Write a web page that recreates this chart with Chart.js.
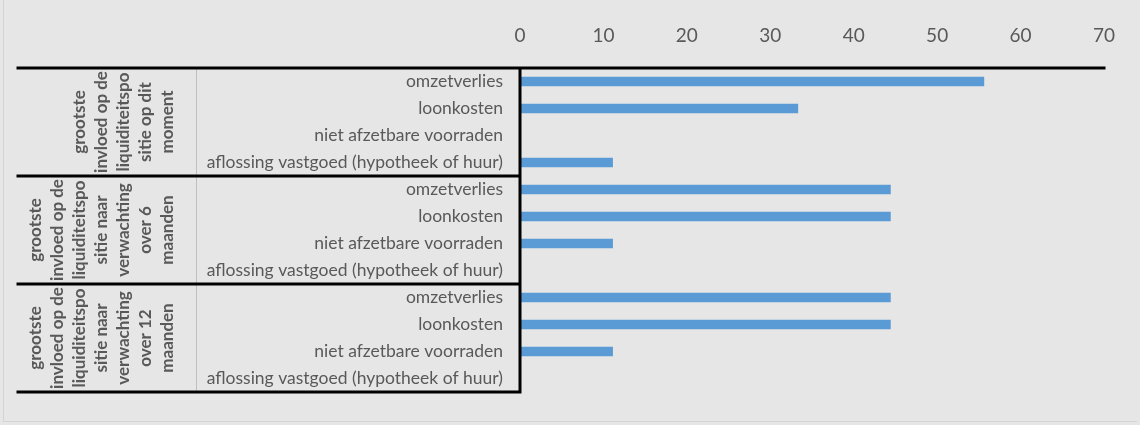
<!DOCTYPE html>
<html>
<head>
<meta charset="utf-8">
<script src="https://cdn.jsdelivr.net/npm/chart.js@4.4.1/dist/chart.umd.min.js"></script>
<style>
  html, body { margin: 0; padding: 0; background: #e6e6e6; }
  #wrap { position: absolute; left: 0; top: 0; width: 1140px; height: 425px; }
  #frame { position: absolute; left: 3px; top: 0; width: 1133px; height: 421px; border-left: 1px solid #d4d4d4; border-bottom: 1px solid #d4d4d4; }
  canvas { position: absolute; left: 0; top: 0; }
</style>
</head>
<body>
<div id="wrap">
  <div id="frame"></div>
  <canvas id="myChart" width="1140" height="425"></canvas>
</div>
<script>
const ctx = document.getElementById('myChart');

// categories per group
const categories = ['omzetverlies', 'loonkosten', 'niet afzetbare voorraden', 'aflossing vastgoed (hypotheek of huur)'];

// group labels, already wrapped the way the original wraps them
const groupMoment = ['grootste', 'invloed op de', 'liquiditeitspo', 'sitie op dit', 'moment'];
const groupSixMonths = ['grootste', 'invloed op de', 'liquiditeitspo', 'sitie naar', 'verwachting', 'over 6', 'maanden'];
const groupTwelveMonths = ['grootste', 'invloed op de', 'liquiditeitspo', 'sitie naar', 'verwachting', 'over 12', 'maanden'];

// values (%)
const momentValues = [55.6, 33.3, 0, 11.1];
const sixMonthValues = [44.4, 44.4, 11.1, 0];
const twelveMonthValues = [44.4, 44.4, 11.1, 0];

const xTicks = [0, 10, 20, 30, 40, 50, 60, 70];

const groups = [groupMoment, groupSixMonths, groupTwelveMonths];
const labels = [].concat(categories, categories, categories);
const values = [].concat(momentValues, sixMonthValues, twelveMonthValues);

const textGray = '#595959';

// draws the group column, the separators and the black frame lines
const groupPlugin = {
  id: 'groups',
  afterDraw(chart) {
    const c = chart.ctx;
    const y = chart.scales.y;
    const area = chart.chartArea;
    const leftEdge = 18;
    const splitX = 196;
    const rowsPer = categories.length;

    const edge = (i) => {
      if (i <= 0) return area.top;
      if (i >= labels.length) return area.bottom;
      return (y.getPixelForValue(i - 1) + y.getPixelForValue(i)) / 2;
    };

    c.save();
    // thin line between group column and categories
    c.strokeStyle = '#bfbfbf';
    c.lineWidth = 1;
    c.beginPath();
    c.moveTo(splitX + 0.5, area.top);
    c.lineTo(splitX + 0.5, area.bottom);
    c.stroke();

    // group text
    c.fillStyle = textGray;
    c.font = 'bold 17px Lato';
    c.textAlign = 'center';
    c.textBaseline = 'middle';
    groups.forEach((lines, g) => {
      const top = edge(g * rowsPer);
      const bottom = edge((g + 1) * rowsPer);
      c.save();
      c.beginPath();
      c.rect(leftEdge, top + 2, splitX - leftEdge, bottom - top - 4);
      c.clip();
      const lastX = 168;
      const step = 22;
      lines.forEach((line, i) => {
        const x = lastX - (lines.length - 1 - i) * step;
        c.save();
        c.translate(x, (top + bottom) / 2);
        c.rotate(-Math.PI / 2);
        c.fillText(line, 0, 0);
        c.restore();
      });
      c.restore();
    });

    // black lines
    c.strokeStyle = '#000';
    c.lineWidth = 3;
    c.lineCap = 'square';
    c.beginPath();
    c.moveTo(leftEdge, area.top);
    c.lineTo(area.right, area.top);
    for (let g = 1; g <= groups.length; g++) {
      const yy = edge(g * rowsPer);
      c.moveTo(leftEdge, yy);
      c.lineTo(area.left, yy);
    }
    c.moveTo(area.left, area.top);
    c.lineTo(area.left, area.bottom);
    c.stroke();
    c.restore();
  }
};

new Chart(ctx, {
  type: 'bar',
  data: {
    labels: labels,
    datasets: [{
      data: values,
      backgroundColor: '#5b9bd5',
      barThickness: 9,
      borderWidth: 0
    }]
  },
  options: {
    indexAxis: 'y',
    responsive: false,
    animation: false,
    layout: { padding: { left: 0, right: 36, top: 0, bottom: 33 } },
    plugins: {
      legend: { display: false },
      tooltip: { enabled: false }
    },
    scales: {
      x: {
        position: 'top',
        min: 0,
        max: 70,
        afterBuildTicks: (scale) => { scale.ticks = xTicks.map(v => ({ value: v })); },
        afterFit: (scale) => { scale.height = 68; },
        grid: { display: false, drawTicks: false },
        border: { display: false },
        ticks: { color: textGray, font: { family: 'Lato', size: 19 }, padding: 21 }
      },
      y: {
        afterFit: (scale) => { scale.width = 520; },
        grid: { display: false, drawTicks: false },
        border: { display: false },
        ticks: { color: textGray, font: { family: 'Lato', size: 17.5 }, padding: 17, autoSkip: false }
      }
    }
  },
  plugins: [groupPlugin]
});
</script>
</body>
</html>
